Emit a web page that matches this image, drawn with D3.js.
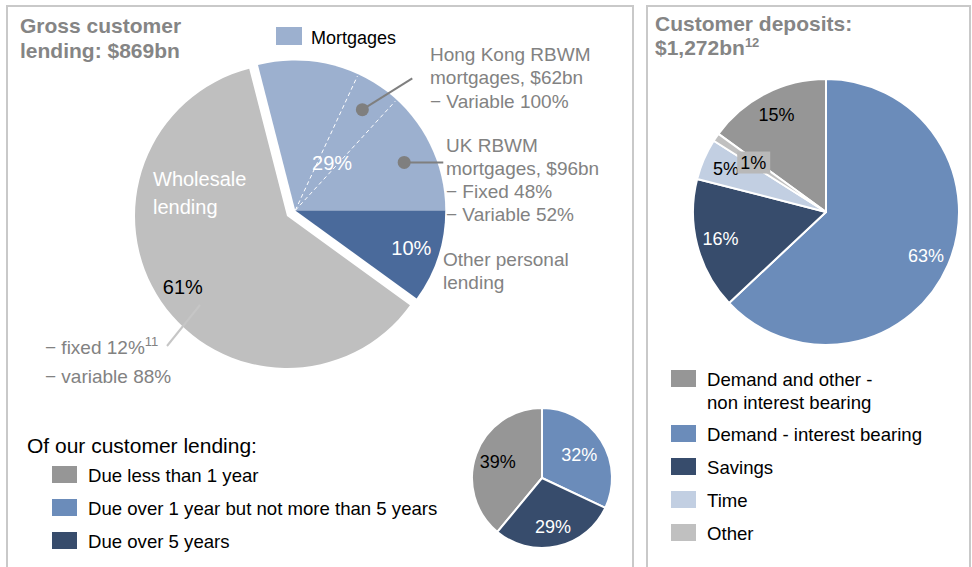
<!DOCTYPE html>
<html>
<head>
<meta charset="utf-8">
<script src="https://cdn.jsdelivr.net/npm/d3@7"></script>
<style>
  body { margin: 0; background: #fff; }
  svg { display: block; font-family: Arial, "Liberation Sans", sans-serif; }
</style>
</head>
<body>
<div id="chart"></div>
<script>
// lending split (% of gross customer lending)
const lendingCats = ["Mortgages", "Other personal lending", "Wholesale lending"];
const lendingShare = [29, 10, 61];
const lendingColors = ["#9cb0cf", "#4a6a9b", "#bfbfbf"];
const lendingText = ["#fff", "#fff", "#000"];

// mortgage slice split
const mortgageParts = ["Other mortgages", "Hong Kong RBWM", "UK RBWM"];
const mortgageShare = [10.9, 4.9, 13.2];

// maturity of customer lending
const maturityCats = ["Due less than 1 year", "Due over 1 year but not more than 5 years", "Due over 5 years"];
const maturityShare = [39, 32, 29];
const maturityColors = ["#969696", "#6b8cba", "#374c6c"];
const maturityText = ["#000", "#fff", "#fff"];

// customer deposits
const depositCats = ["Demand and other -|non interest bearing", "Demand - interest bearing", "Savings", "Time", "Other"];
const depositShare = [15, 63, 16, 5, 1];
const depositColors = ["#969696", "#6b8cba", "#374c6c", "#c2cfe2", "#c0c0c0"];
const depositText = ["#000", "#fff", "#fff", "#000", "#000"];

const TAU = 2 * Math.PI;
const W = 972, H = 567;

const svg = d3.select("#chart").append("svg")
    .attr("width", W)
    .attr("height", H);

svg.append("rect").attr("width", W).attr("height", H).attr("fill", "#fff");

// panel frames (open at the bottom)
svg.append("rect")
    .attr("x", 7).attr("y", 6).attr("width", 626).attr("height", 600)
    .attr("fill", "none").attr("stroke", "#c9c9c9").attr("stroke-width", 2);
svg.append("rect")
    .attr("x", 647).attr("y", 6).attr("width", 323).attr("height", 600)
    .attr("fill", "none").attr("stroke", "#c9c9c9").attr("stroke-width", 2);

function label(g, x, y, str, size, color, weight) {
    return g.append("text")
        .attr("x", x).attr("y", y)
        .attr("font-size", size)
        .attr("fill", color || "#000")
        .attr("font-weight", weight || "normal")
        .text(str);
}

// ---------- titles
label(svg, 20, 33, "Gross customer", 21, "#858585", "bold");
label(svg, 20, 58, "lending: $869bn", 21, "#858585", "bold");

label(svg, 655, 31, "Customer deposits:", 21, "#858585", "bold");
const dTitle = label(svg, 655, 55, "$1,272bn", 21, "#858585", "bold");
dTitle.append("tspan").attr("font-size", 13).attr("dy", -8).text("12");

// ---------- main lending pie
const mainR = 150;
const main = svg.append("g").attr("transform", "translate(287,216)");

const pieMain = d3.pie().sort(null)
    .startAngle(TAU / 4 - lendingShare[0] / 100 * TAU)
    .endAngle(TAU / 4 - lendingShare[0] / 100 * TAU + TAU);
const mainArcs = pieMain(lendingShare);
const arcMain = d3.arc().innerRadius(0).outerRadius(mainR);

// retail slices pulled out of the pie
const retailMid = (mainArcs[0].startAngle + mainArcs[1].endAngle) / 2;
const pull = 10;
const retail = main.append("g")
    .attr("transform", `translate(${Math.sin(retailMid) * pull},${-Math.cos(retailMid) * pull})`);

main.append("path")
    .attr("d", d3.arc().innerRadius(0).outerRadius(mainR + 2)(mainArcs[2]))
    .attr("fill", lendingColors[2]);

retail.selectAll("path.slice")
    .data(mainArcs.slice(0, 2))
    .enter().append("path")
    .attr("class", "slice")
    .attr("d", arcMain)
    .attr("fill", (d, i) => lendingColors[i]);

// dashed dividers inside the mortgage slice
const subArcs = d3.pie().sort(null)
    .startAngle(mainArcs[0].startAngle)
    .endAngle(mainArcs[0].endAngle)(mortgageShare);

retail.selectAll("line.div")
    .data(subArcs.slice(0, 2))
    .enter().append("line")
    .attr("class", "div")
    .attr("x1", 0).attr("y1", 0)
    .attr("x2", d => Math.sin(d.endAngle) * (mainR - 2))
    .attr("y2", d => -Math.cos(d.endAngle) * (mainR - 2))
    .attr("stroke", "#fff")
    .attr("stroke-width", 1)
    .attr("stroke-dasharray", "4,3");

// percentage labels
const mainLabelR = [60, 122, 126];
mainArcs.forEach((d, i) => {
    const c = d3.arc().innerRadius(mainLabelR[i]).outerRadius(mainLabelR[i]).centroid(d);
    const g = i < 2 ? retail : main;
    g.append("text")
        .attr("x", c[0]).attr("y", c[1])
        .attr("dy", "0.35em")
        .attr("text-anchor", "middle")
        .attr("font-size", 20)
        .attr("fill", lendingText[i])
        .text(lendingShare[i] + "%");
});

label(main, -134, -30, "Wholesale", 20, "#fff");
label(main, -134, -2, "lending", 20, "#fff");

// callout dots
const hk = d3.arc().innerRadius(121).outerRadius(121).centroid(subArcs[1]);
const uk = d3.arc().innerRadius(119).outerRadius(119).centroid(subArcs[2]);

retail.append("line")
    .attr("x1", hk[0]).attr("y1", hk[1])
    .attr("x2", 117).attr("y2", -132)
    .attr("stroke", "#7f7f7f").attr("stroke-width", 2);
retail.append("line")
    .attr("x1", uk[0]).attr("y1", uk[1])
    .attr("x2", mainR - 2).attr("y2", uk[1])
    .attr("stroke", "#7f7f7f").attr("stroke-width", 2);
[hk, uk].forEach(p => {
    retail.append("circle")
        .attr("cx", p[0]).attr("cy", p[1]).attr("r", 6.5)
        .attr("fill", "#7f7f7f");
});

// fixed / variable leader
svg.append("line")
    .attr("x1", 167).attr("y1", 346)
    .attr("x2", 200).attr("y2", 305)
    .attr("stroke", "#c6c6c6").attr("stroke-width", 2);

// mortgages legend
svg.append("rect")
    .attr("x", 276).attr("y", 27).attr("width", 26).attr("height", 18)
    .attr("fill", lendingColors[0]);
label(svg, 311, 44, lendingCats[0], 18, "#000");

// annotation text
const grey = "#828282";
const annSize = 19;
label(svg, 430, 61, "Hong Kong RBWM", annSize, grey);
label(svg, 430, 84, "mortgages, $62bn", annSize, grey);
label(svg, 430, 108, "\u2212 Variable 100%", annSize, grey);

label(svg, 446, 152, "UK RBWM", annSize, grey);
label(svg, 446, 175, "mortgages, $96bn", annSize, grey);
label(svg, 446, 198, "\u2212 Fixed 48%", annSize, grey);
label(svg, 446, 221, "\u2212 Variable 52%", annSize, grey);

label(svg, 443, 266, "Other personal", annSize, grey);
label(svg, 443, 289, "lending", annSize, grey);

const fx = label(svg, 45, 354, "\u2212 fixed 12%", annSize, grey);
fx.append("tspan").attr("font-size", 13).attr("dy", -8).text("11");
label(svg, 45, 383, "\u2212 variable 88%", annSize, grey);

// ---------- maturity pie + legend
label(svg, 27, 453, "Of our customer lending:", 21, "#000");

const legL = svg.append("g");
maturityCats.forEach((c, i) => {
    const y = 466 + i * 33;
    legL.append("rect")
        .attr("x", 52).attr("y", y).attr("width", 25).attr("height", 17)
        .attr("fill", maturityColors[i]);
    label(legL, 88, y + 16, c, 18.6, "#000");
});

const matR = 70;
const mat = svg.append("g").attr("transform", "translate(542,478)");
const matArcs = d3.pie().sort(null)
    .startAngle(-maturityShare[0] / 100 * TAU)
    .endAngle(TAU - maturityShare[0] / 100 * TAU)(maturityShare);
const arcMat = d3.arc().innerRadius(0).outerRadius(matR);

mat.selectAll("path")
    .data(matArcs)
    .enter().append("path")
    .attr("d", arcMat)
    .attr("fill", (d, i) => maturityColors[i])
    .attr("stroke", "#fff")
    .attr("stroke-width", 2)
    .attr("stroke-linejoin", "round");

const matLabelR = [47, 44, 50];
mat.selectAll("text")
    .data(matArcs)
    .enter().append("text")
    .attr("transform", (d, i) => {
        const c = d3.arc().innerRadius(matLabelR[i]).outerRadius(matLabelR[i]).centroid(d);
        return `translate(${c[0]},${c[1]})`;
    })
    .attr("dy", "0.35em")
    .attr("text-anchor", "middle")
    .attr("font-size", 18)
    .attr("fill", (d, i) => maturityText[i])
    .text(d => d.data + "%");

// ---------- deposits pie + legend
const depR = 133;
const dep = svg.append("g").attr("transform", "translate(826,212)");
const depArcs = d3.pie().sort(null)
    .startAngle(-depositShare[0] / 100 * TAU)
    .endAngle(TAU - depositShare[0] / 100 * TAU)(depositShare);
const arcDep = d3.arc().innerRadius(0).outerRadius(depR);

dep.selectAll("path")
    .data(depArcs)
    .enter().append("path")
    .attr("d", arcDep)
    .attr("fill", (d, i) => depositColors[i])
    .attr("stroke", "#fff")
    .attr("stroke-width", 2)
    .attr("stroke-linejoin", "round");

const depLabel = dep.selectAll("g.lab")
    .data(depArcs)
    .enter().append("g")
    .attr("class", "lab")
    .attr("transform", d => {
        const r = d.data < 3 ? 88 : 109;
        const c = d3.arc().innerRadius(r).outerRadius(r).centroid(d);
        return `translate(${c[0]},${c[1]})`;
    });

// the tiny slice label sits on a grey box
depLabel.filter(d => d.data < 3).append("rect")
    .attr("x", -16).attr("y", -11).attr("width", 33).attr("height", 22)
    .attr("fill", "#b8b8b8");

depLabel.append("text")
    .attr("dy", "0.35em")
    .attr("text-anchor", "middle")
    .attr("font-size", 18)
    .attr("fill", (d, i) => depositText[i])
    .text(d => d.data + "%");

const legR = svg.append("g");
const legRows = [370, 425, 458, 491, 524];
depositCats.forEach((c, i) => {
    const y = legRows[i];
    legR.append("rect")
        .attr("x", 671).attr("y", y).attr("width", 25).attr("height", 17)
        .attr("fill", depositColors[i]);
    c.split("|").forEach((line, j) => {
        label(legR, 707, y + 16 + j * 23, line, 18.6, "#000");
    });
});
</script>
</body>
</html>
